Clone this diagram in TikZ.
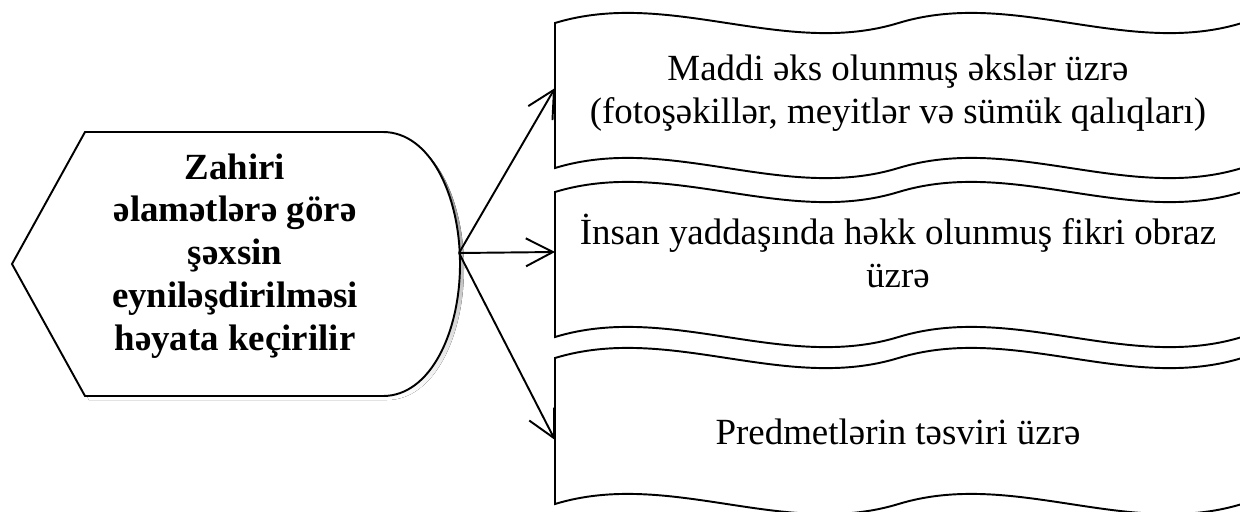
\documentclass[tikz,border=0pt]{standalone}
\usepackage{fontspec}
\setmainfont{Liberation Serif}
\usetikzlibrary{arrows.meta,positioning}
\definecolor{ink}{RGB}{0,0,0}
\definecolor{shade}{RGB}{128,128,128}
\definecolor{paper}{RGB}{255,255,255}
\tikzset{
  wavebox/.style={draw=ink, line width=1.1pt, fill=paper},
  headshape/.style={draw=ink, line width=1.1pt, fill=paper, line join=miter},
  boxtext/.style={font=\fontsize{21}{24.4}\selectfont, align=center, inner sep=0pt},
  headtext/.style={boxtext, font=\fontsize{21}{24.4}\selectfont\bfseries},
  flow/.style={-{Straight Barb[length=5.4mm,width=5.6mm]}, line width=1.1pt, draw=ink}
}
\begin{document}
\begin{tikzpicture}[x=0.02cm,y=-0.02cm]
  \useasboundingbox (0,0) rectangle (1240,511);
  \begin{scope}
    \clip (0,0) rectangle (1240,511);
    \foreach \t/\b in {23/168,192/337,358/504}
      \draw[wavebox] (555,\t) .. controls ({669.5},{\t-35}) and ({784},{\t+35}) .. (898.5,\t)
        .. controls ({1013},{\t-35}) and ({1127.5},{\t+35}) .. (1242,\t) -- (1242,\b)
        .. controls ({1127.5},{\b+35}) and ({1013},{\b-35}) .. (898.5,\b)
        .. controls ({784},{\b+35}) and ({669.5},{\b-35}) .. (555,\b) -- cycle;
  \end{scope}
  \fill[shade, shift={(4,4)}] (12,264) -- (85,132) -- (383,132)
    .. controls (430,132) and (460,195) .. (460,264)
    .. controls (460,333) and (430,396) .. (383,396) -- (85,396) -- cycle;
  \draw[headshape] (12,264) -- (85,132) -- (383,132)
    .. controls (430,132) and (460,195) .. (460,264)
    .. controls (460,333) and (430,396) .. (383,396) -- (85,396) -- cycle;
  \node[headtext] (head) at (235,256) {Zahiri\\əlamətlərə görə\\şəxsin\\eyniləşdirilməsi\\həyata keçirilir};
  \node[boxtext] (t1) at (898,93) {Maddi əks olunmuş əkslər üzrə\\(fotoşəkillər, meyitlər və sümük qalıqları)};
  \node[boxtext] (t2) at (898,251) {İnsan yaddaşında həkk olunmuş fikri obraz\\üzrə};
  \node[boxtext] (t3) at (898,432) {Predmetlərin təsviri üzrə};
  \coordinate (src) at (459,253);
  \coordinate (in1) at (555,88);
  \coordinate (in2) at (555,252);
  \coordinate (in3) at (555,440);
  \draw[flow] (src) -- (in1);
  \draw[flow] (src) -- (in2);
  \draw[flow] (src) -- (in3);
\end{tikzpicture}
\end{document}
